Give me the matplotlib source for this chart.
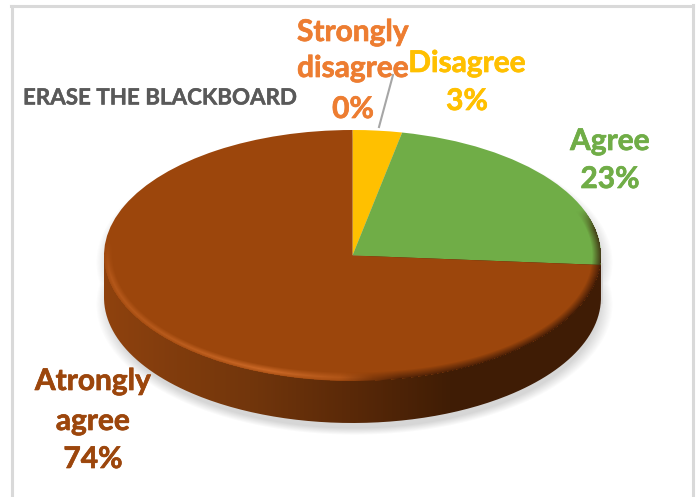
import numpy as np
import matplotlib
matplotlib.use('Agg')
import matplotlib.pyplot as plt
import matplotlib.patheffects as pe
from matplotlib.patches import PathPatch
from matplotlib.path import Path

plt.rcParams['font.family'] = ['Lato', 'DejaVu Sans']

categories = ['Strongly\ndisagree', 'Disagree', 'Agree', 'Atrongly\nagree']
shares = [0, 3.2, 23, 73.8]
pct_labels = ['0%', '3%', '23%', '74%']
colors = ['#ed7d31', '#ffc000', '#70ad47', '#9c460c']
title = 'ERASE THE BLACKBOARD'

W, H = 697, 497
# ellipse of the top face, in pixels
cx, cy, rx, ry = 352.5, 255.5, 248.5, 125.5
depth = 42

fig = plt.figure(figsize=(W / 100, H / 100), dpi=100)
ax = fig.add_axes([0, 0, 1, 1])
ax.set_xlim(0, W)
ax.set_ylim(H, 0)
ax.axis('off')

# frame, no bottom line in the picture
ax.plot([12, 12], [H, 6], color='#d9d9d9', lw=2.2)
ax.plot([11, 693], [6, 6], color='#d9d9d9', lw=2.2)
ax.plot([693, 693], [5, H], color='#d9d9d9', lw=2.2)

yy, xx = np.mgrid[0:H, 0:W] + 0.5

# soft grey shadow under the disc
def disc_dist(ox, oy):
    d_top = np.hypot((xx - ox) / rx, (yy - oy) / ry) - 1
    d_bot = np.hypot((xx - ox) / rx, (yy - oy - depth) / ry) - 1
    inside = (np.abs(xx - ox) < rx) & (yy > oy) & (yy < oy + depth)
    d = np.minimum(d_top, d_bot)
    d[inside] = -1
    return d * rx

sh = np.clip(1 - (disc_dist(cx + 2, cy + 7) + 4) / 14, 0, 1)
shadow = np.zeros((H, W, 4))
shadow[..., :3] = 0.62
shadow[..., 3] = sh * 0.42
ax.imshow(shadow, extent=(0, W, H, 0), aspect='auto', zorder=1)

# side wall, darkens from left to right
side_x = [cx - rx, 250, 350, 450, 520, cx + rx]
side_c = np.array([[0x8f, 0x42, 0x0e], [0x72, 0x36, 0x0c], [0x5a, 0x29, 0x08],
                   [0x40, 0x1d, 0x05], [0x3f, 0x1c, 0x05], [0x3f, 0x1c, 0x05]]) / 255
grad = np.stack([np.interp(xx[0], side_x, side_c[:, i]) for i in range(3)], axis=1)[None, :, :]
im = ax.imshow(grad, extent=(0, W, H, 0), aspect='auto', zorder=2)
t = np.linspace(0, np.pi, 200)
low_edge = np.column_stack([cx + rx * np.cos(t), cy + depth + ry * np.sin(t)])
wall = np.vstack([[cx - rx, cy], [cx + rx, cy], low_edge, [cx - rx, cy]])
wall_patch = PathPatch(Path(wall), fc='none', ec='none', transform=ax.transData)
ax.add_patch(wall_patch)
im.set_clip_path(wall_patch)

# top face, unit pie stretched to the ellipse
pie_ax = fig.add_axes([(cx - rx) / W, 1 - (cy + ry) / H, 2 * rx / W, 2 * ry / H], zorder=5)
pie_ax.patch.set_alpha(0)
pie_ax.pie(shares, colors=colors, startangle=90, counterclock=False, radius=1,
           wedgeprops={'linewidth': 0})
pie_ax.set_aspect('auto')
pie_ax.set_xlim(-1, 1)
pie_ax.set_ylim(-1, 1)

# rim bevel over the face: light on lower left, dark on the right
r = np.hypot((xx - cx) / rx, (yy - cy) / ry)
ang = np.arctan2((yy - cy) / ry, (xx - cx) / rx)
px_in = (1 - r) * np.hypot(rx * np.cos(ang), ry * np.sin(ang))
band = np.clip(1 - np.abs(px_in - 3.5) / 5.5, 0, 1) * (r <= 1)
lower = np.clip((np.sin(ang) + 0.12) / 0.3, 0, 1)
light = np.clip(np.interp(xx, [cx - rx, 160, 270, 345, 375], [0.3, 0.35, 0.6, 0.25, 0]), 0, 1)
dark = np.clip(np.interp(xx, [340, 400, 560], [0, 0.7, 0.8]), 0, 1)

bevel = np.zeros((H, W, 4))
bevel[..., :3] = 0.92, 0.5, 0.22
bevel[..., 3] = band * lower * light
dark_layer = np.zeros((H, W, 4))
dark_layer[..., :3] = 0.2, 0.08, 0.02
band2 = np.clip(1 - px_in / 9, 0, 1) * (r <= 1)
right_up = np.clip((np.cos(ang) - 0.93) / 0.05, 0, 1)
dark_layer[..., 3] = band2 * np.maximum(lower * dark, right_up * 0.75)

ov_ax = fig.add_axes([0, 0, 1, 1], zorder=6)
ov_ax.set_xlim(0, W)
ov_ax.set_ylim(H, 0)
ov_ax.axis('off')
ov_ax.imshow(bevel, extent=(0, W, H, 0), aspect='auto')
ov_ax.imshow(dark_layer, extent=(0, W, H, 0), aspect='auto')

# leader line for the 0% slice
ov_ax.plot([393, 379], [75, 127], color='#a6a6a6', lw=1.5)

def heavy(c, w=0.5):
    return [pe.withStroke(linewidth=w, foreground=c)]

label_kw = dict(ha='center', va='center', fontweight='bold', fontsize=21.5)
rows = [
    (353, 32, 'Strongly', colors[0]),
    (353, 68, 'disagree', colors[0]),
    (353, 109, pct_labels[0], colors[0]),
    (467, 63, categories[1], colors[1]),
    (467, 101, pct_labels[1], colors[1]),
    (610, 141, categories[2], colors[2]),
    (610, 179, pct_labels[2], colors[2]),
    (93, 381, 'Atrongly', colors[3]),
    (93, 421, 'agree', colors[3]),
    (93, 459, pct_labels[3], colors[3]),
]
for x, y, s, c in rows:
    ov_ax.text(x, y, s, color=c, path_effects=heavy(c), **label_kw)
ov_ax.text(23, 98, title, color='#595959', fontweight='bold', fontsize=16.1, ha='left', va='center',
           path_effects=heavy('#595959', 0.3))

fig.savefig('out.png', dpi=100, facecolor='white')
